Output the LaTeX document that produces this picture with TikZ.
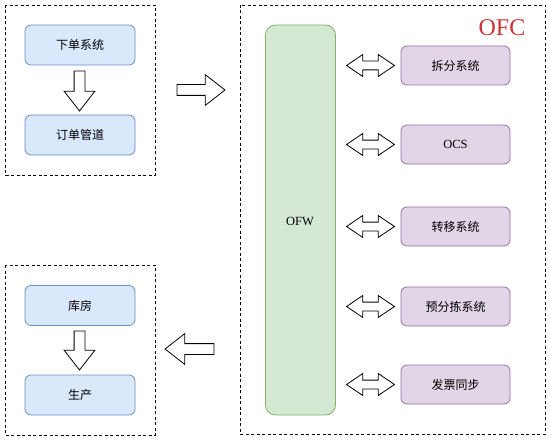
\documentclass[tikz,border=0pt]{standalone}
\usepackage{fontspec}
\setmainfont{Liberation Serif}
\newfontfamily\cjk{Noto Sans CJK SC}
\usetikzlibrary{shapes.arrows}
\definecolor{bluefill}{HTML}{DAE8FC}
\definecolor{bluedraw}{HTML}{6C8EBF}
\definecolor{greenfill}{HTML}{D5E8D4}
\definecolor{greendraw}{HTML}{82B366}
\definecolor{purplefill}{HTML}{E1D5E7}
\definecolor{purpledraw}{HTML}{9673A6}
\definecolor{ofcred}{HTML}{CC3333}
\tikzset{
  group/.style={draw=black, dash pattern=on 3pt off 2.5pt, line width=0.8pt},
  bluebox/.style={draw=bluedraw, fill=bluefill, rounded corners=6pt, minimum width=110pt, minimum height=40pt, line width=0.8pt, font=\cjk\fontsize{12}{14}\selectfont},
  purplebox/.style={draw=purpledraw, fill=purplefill, rounded corners=6pt, minimum width=109pt, minimum height=39pt, line width=0.8pt, font=\cjk\fontsize{12}{14}\selectfont},
  bigarrow/.style={single arrow, draw=black, fill=white, line width=0.8pt, inner sep=5pt, single arrow head extend=10pt, single arrow tip angle=76, minimum height=#1},
  dblarrow/.style={double arrow, draw=black, fill=white, line width=0.8pt, inner sep=4pt, double arrow head extend=6.5pt, double arrow tip angle=68, minimum height=48pt},
}
\begin{document}
\begin{tikzpicture}[x=1pt,y=-1pt]
\useasboundingbox (0,0) rectangle (551,441);
% groups
\draw[group] (5,5) rectangle (155,175);
\draw[group] (5,265) rectangle (155,435);
\draw[group] (240,5) rectangle (545,434);
\node[text=ofcred, font=\rmfamily\fontsize{24}{26}\selectfont, anchor=center] (ofc) at (502,28) {OFC};
% top-left
\node[bluebox] (xd) at (80,45) {下单系统};
\node[bluebox] (dd) at (80,135) {订单管道};
\node[bigarrow=40pt, rotate=-90] (a1) at (79.5,87.5) {};
% bottom-left
\node[bluebox] (kf) at (80,305.5) {库房};
\node[bluebox] (sc) at (80,395) {生产};
\node[bigarrow=39pt, rotate=-90] (a2) at (79.5,347) {};
% middle arrows
\node[bigarrow=48pt] (a3) at (197.5,90) {};
\node[bigarrow=49pt, rotate=180] (a4) at (193,349) {};
% OFW
\node[draw=greendraw, fill=greenfill, rounded corners=10pt, minimum width=70pt, minimum height=390pt, line width=0.8pt] (ofw) at (300.5,220) {};
\node[font=\rmfamily\fontsize{12.5}{14}\selectfont] (ofwt) at (300,221) {OFW};
% purple boxes
\node[purplebox] (p1) at (455.5,65.5) {拆分系统};
\node[purplebox, font=\rmfamily\fontsize{12.5}{14}\selectfont] (p2) at (455.5,144.5) {OCS};
\node[purplebox] (p3) at (455.5,226.5) {转移系统};
\node[purplebox] (p4) at (455.5,306.5) {预分拣系统};
\node[purplebox] (p5) at (455.5,384.5) {发票同步};
% double arrows
\foreach \i/\y in {1/65.5,2/144.5,3/226.5,4/306.5,5/384.5}
  \node[dblarrow] (d\i) at (370.5,\y) {};
\end{tikzpicture}
\end{document}
